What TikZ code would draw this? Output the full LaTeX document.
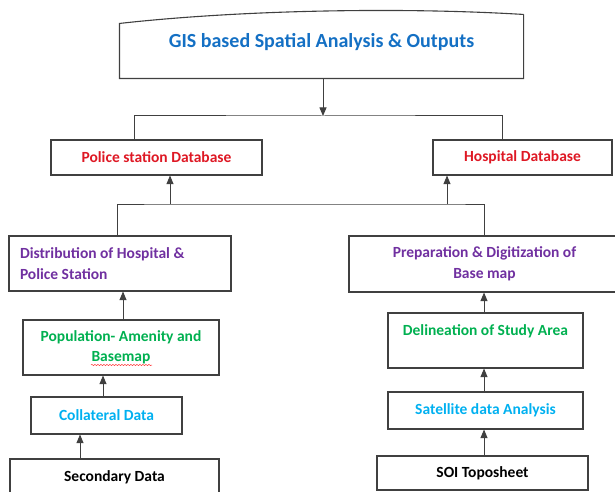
\documentclass[tikz,border=0pt]{standalone}
\usepackage{fontspec}
\setmainfont{Carlito}
\usepackage{xcolor}
\usepackage{tikz}
\usetikzlibrary{arrows,calc,positioning,decorations.pathmorphing}
\definecolor{gisblue}{RGB}{20,112,196}
\definecolor{dbred}{RGB}{222,24,36}
\definecolor{stepviolet}{RGB}{112,48,160}
\definecolor{stepgreen}{RGB}{0,176,80}
\definecolor{stepcyan}{RGB}{0,176,240}
\definecolor{boxgray}{RGB}{64,64,64}

\begin{document}
\begin{tikzpicture}[
    x=1pt, y=-1pt,
    stepbox/.style={draw=boxgray, line width=1.1pt, rectangle, inner sep=0, align=center,
        font=\fontsize{15.5}{20.5}\selectfont\bfseries},
    dbbox/.style={stepbox, text=dbred, minimum height=35pt},
    link/.style={draw=boxgray, line width=1pt},
    uplink/.style={link, -triangle 45}]
\useasboundingbox (0,0) rectangle (615,492);

% top box with wavy upper edge
\node (gis) [stepbox, draw=none, text=gisblue, font=\fontsize{20}{22}\selectfont\bfseries,
    minimum width=403pt, minimum height=54pt] at (321.5,51) {GIS based Spatial Analysis \& Outputs\\~};
\path[draw=boxgray, line width=1.1pt] (gis.north east) ++(0,-9) -- (gis.south east) -- (gis.south west)
    -- (gis.north west) .. controls (240,10) and (400,7) .. ([yshift=9pt]gis.north east);

% databases
\node (police)   [dbbox, minimum width=211pt] at (156.5,157.5) {Police station Database};
\node (hospital) [dbbox, minimum width=179pt] at (522.5,157.5) {Hospital Database};

% left column
\node (distrib) [stepbox, text=stepviolet, align=flush left, text width=200pt, inner xsep=11pt,
    minimum height=55pt] at (120,263.5) {Distribution of Hospital \&\\Police Station};
\node (popu)    [stepbox, text=stepgreen, minimum width=196pt, minimum height=55pt]
    at (121,347.5) {Population- Amenity and\\Basemap};
\node (collat)  [stepbox, text=stepcyan, minimum width=151pt, minimum height=37pt]
    at (106.5,415.5) {Collateral Data};
\node (second)  [stepbox, minimum width=209pt, minimum height=36pt] at (114.5,477) {Secondary Data};

% right column
\node (prep)  [stepbox, text=stepviolet, minimum width=271pt, minimum height=56pt]
    at (484.5,264) {Preparation \& Digitization of\\Base map};
\node (delin) [stepbox, text=stepgreen, minimum width=195pt, minimum height=55pt]
    at (485.5,340.5) {Delineation of Study Area\\~};
\node (satel) [stepbox, text=stepcyan, minimum width=195pt, minimum height=37pt]
    at (485.5,410.5) {Satellite data Analysis};
\node (soi)   [stepbox, minimum width=211pt, minimum height=34pt] at (482.5,473) {SOI Toposheet};

% spell check mark
\path[draw=red!80, line width=0.5pt, decorate, decoration={snake, amplitude=0.6pt, segment length=3pt}]
    (91,365) -- (152,365);

\coordinate (topjoin) at (323,116);
\coordinate (midl) at (170,204);
\coordinate (midr) at (447,204);

\path[link, -triangle 45] (gis.south -| topjoin) -- (topjoin);
\path[link] ([xshift=-22.5pt]police.north) |- (topjoin) -| ([xshift=-20.5pt]hospital.north);

\path[link] ([xshift=-3pt]distrib.north) |- (midl) -- (midr) -| (prep.north);
\path[uplink] (midl) -- (midl |- police.south);
\path[uplink] (midr) -- (midr |- hospital.south);

\path[uplink] ([xshift=2pt]popu.north) -- ([xshift=2pt]popu.north |- distrib.south);
\path[uplink] ([xshift=-3.5pt]collat.north) -- ([xshift=-3.5pt]collat.north |- popu.south);
\path[uplink] ([xshift=-34.5pt]second.north) -- ([xshift=-34.5pt]second.north |- collat.south);

\path[uplink] ([xshift=-1.5pt]delin.north) -- ([xshift=-1.5pt]delin.north |- prep.south);
\path[uplink] ([xshift=-1.5pt]satel.north) -- ([xshift=-1.5pt]satel.north |- delin.south);
\path[uplink] ([xshift=1.5pt]soi.north) -- ([xshift=1.5pt]soi.north |- satel.south);

\end{tikzpicture}
\end{document}
